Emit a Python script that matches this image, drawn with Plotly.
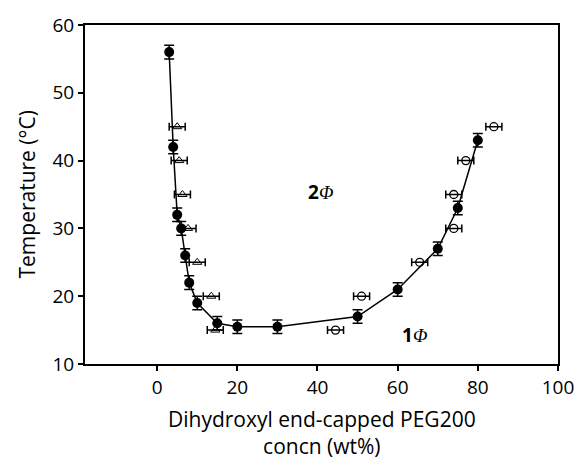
import plotly.graph_objects as go

# Filled circles: phase boundary (vertical error bars)
fill_x = [3, 4, 5, 6, 7, 8, 10, 15, 20, 30, 50, 60, 70, 75, 80]
fill_y = [56, 42, 32, 30, 26, 22, 19, 16, 15.5, 15.5, 17, 21, 27, 33, 43]
fill_yerr = [1, 1, 1, 1, 1, 1, 1, 1, 1, 1, 1, 1, 1, 1, 1]

# Open triangles (left branch, horizontal error bars)
tri_x = [5, 5.5, 6.3, 7.7, 10, 13.5, 14.5]
tri_y = [45, 40, 35, 30, 25, 20, 15]
tri_xerr = [2, 2, 2, 2, 2, 2, 2]

# Open circles (right branch, horizontal error bars)
oc_x = [44.5, 51, 65.5, 74, 74, 77, 84]
oc_y = [15, 20, 25, 30, 35, 40, 45]
oc_xerr = [2, 2, 2, 2, 2, 2, 2]

x_ticks = [0, 20, 40, 60, 80, 100]
y_ticks = [10, 20, 30, 40, 50, 60]

x_title_lines = ["Dihydroxyl end-capped PEG200", "concn (wt%)"]
y_title = "Temperature (°C)"

FONT = "Open Sans"

fig = go.Figure()

fig.add_trace(go.Scatter(
    x=tri_x, y=tri_y, mode="markers",
    marker=dict(symbol="triangle-up-open", size=8, color="black", line=dict(width=1)),
    error_x=dict(type="data", array=tri_xerr, color="black", thickness=1.5, width=4),
    showlegend=False))

fig.add_trace(go.Scatter(
    x=oc_x, y=oc_y, mode="markers",
    marker=dict(symbol="circle-open", size=8, color="black", line=dict(width=1.3)),
    error_x=dict(type="data", array=oc_xerr, color="black", thickness=1.5, width=4),
    showlegend=False))

fig.add_trace(go.Scatter(
    x=fill_x, y=fill_y, mode="lines+markers",
    line=dict(color="black", width=1.5),
    marker=dict(symbol="circle", size=10, color="black"),
    error_y=dict(type="data", array=fill_yerr, color="black", thickness=1.5, width=5),
    showlegend=False))

phi = "<span style=\"font-family:'Liberation Serif'\"><i>Φ</i></span>"
fig.add_annotation(x=40.7, y=35.3, xref="x", yref="y", showarrow=False,
                   text="<b>2</b>" + phi,
                   font=dict(family=FONT, size=19, color="black"))
fig.add_annotation(x=64.2, y=14.3, xref="x", yref="y", showarrow=False,
                   text="<b>1</b>" + phi,
                   font=dict(family=FONT, size=19, color="black"))

# axis titles as annotations
fig.add_annotation(x=0.5, y=-0.2035, xref="paper", yref="paper", showarrow=False,
                   text="<br>".join(x_title_lines), xanchor="center", yanchor="middle",
                   align="center",
                   font=dict(family=FONT, size=21, color="black"))
fig.add_annotation(x=-0.1247, y=0.5, xref="paper", yref="paper", showarrow=False,
                   text=y_title, textangle=-90, xanchor="center", yanchor="middle",
                   font=dict(family=FONT, size=21, color="black"))

axis_common = dict(showline=True, linewidth=2, linecolor="black", mirror=True,
                   ticks="outside", ticklen=5, tickwidth=2, tickcolor="black",
                   showgrid=False, zeroline=False,
                   tickfont=dict(family=FONT, size=19, color="black"))

fig.update_xaxes(range=[-18, 100], tickvals=x_ticks, **axis_common)
fig.update_yaxes(range=[10, 60], tickvals=y_ticks, **axis_common)

fig.update_layout(width=586, height=464, margin=dict(l=85, r=20, t=22, b=100),
                  plot_bgcolor="white", paper_bgcolor="white")

fig.write_html("out.html")
